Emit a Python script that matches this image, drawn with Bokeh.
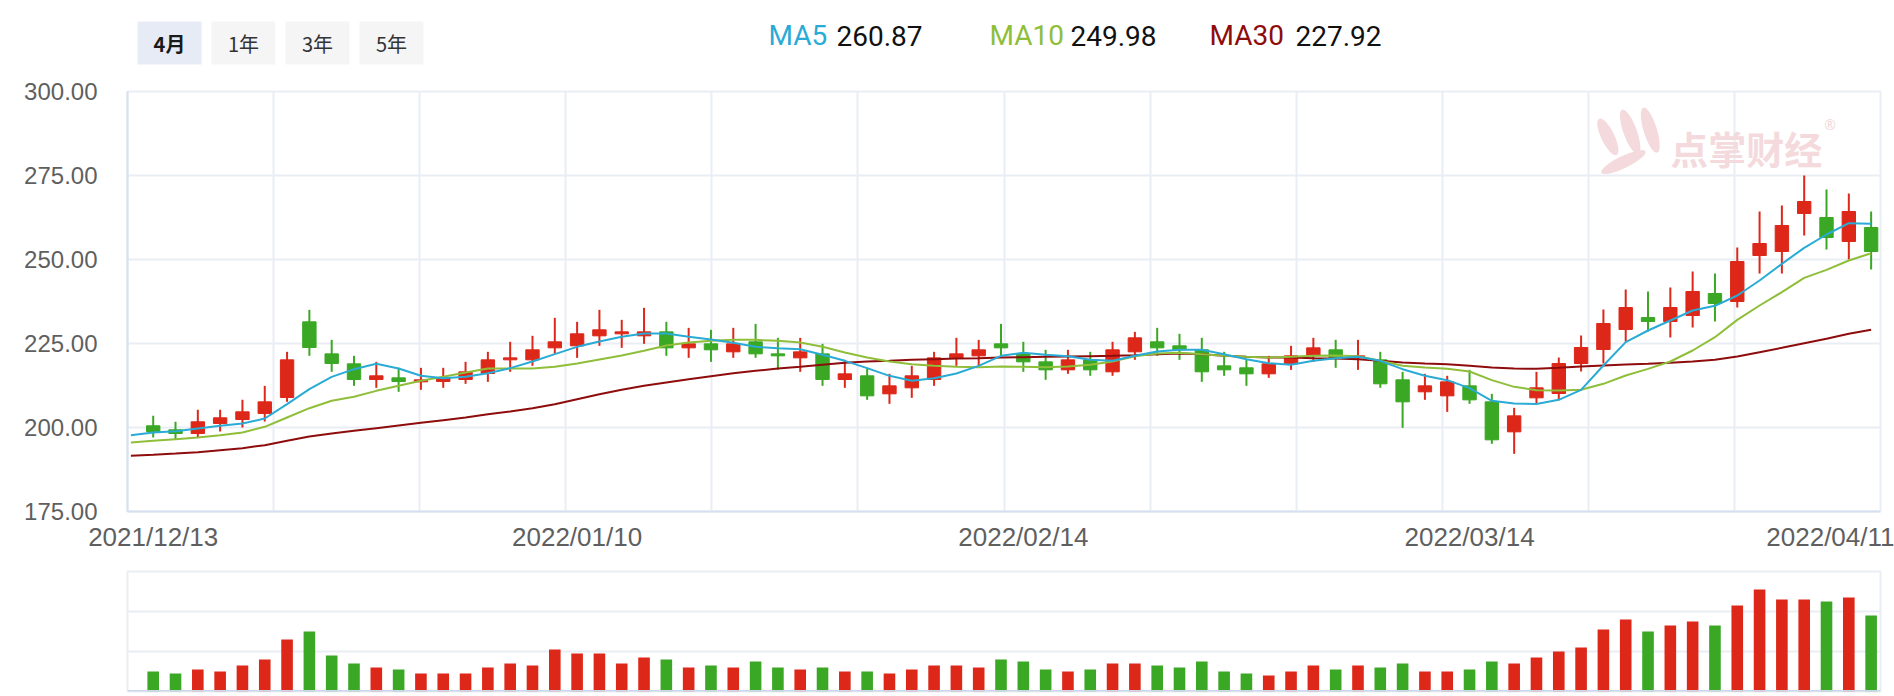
import numpy as np
from bokeh.plotting import figure
from bokeh.layouts import column
from bokeh.models import Range1d, FixedTicker, NumeralTickFormatter, ColumnDataSource, Span
from bokeh.core.properties import value
from bokeh.embed import file_html
from bokeh.resources import INLINE

# ---------------- data ----------------
opens = [200.50, 199.31, 198.21, 201.19, 202.38, 204.17, 208.93, 231.45, 221.92, 218.95,
         214.29, 214.78, 213.59, 213.69, 214.29, 216.07, 220.14, 220.14, 223.71, 224.31,
         227.28, 227.88, 227.28, 228.47, 223.71, 224.90, 222.52, 225.50, 221.92, 220.73,
         221.92, 214.29, 215.38, 210.02, 211.81, 214.29, 220.73, 221.33, 224.90, 221.92,
         219.54, 217.16, 220.14, 216.57, 222.52, 225.50, 224.31, 223.12, 218.35, 217.76,
         215.97, 218.95, 221.33, 223.12, 220.73, 220.14, 214.19, 210.62, 209.42, 212.40,
         207.64, 198.71, 208.83, 210.12, 219.05, 223.21, 229.17, 232.74, 231.55, 233.33,
         239.88, 237.50, 251.19, 252.38, 263.69, 262.50, 255.36, 259.52]
closes = [198.81, 198.21, 201.69, 202.88, 204.66, 207.64, 220.14, 223.81, 219.05, 214.29,
          215.38, 213.69, 214.19, 214.78, 216.57, 220.14, 220.73, 223.12, 225.50, 227.88,
          229.07, 228.47, 228.47, 223.71, 224.90, 223.12, 224.90, 221.92, 221.33, 222.52,
          214.29, 215.97, 209.42, 212.40, 215.38, 220.73, 221.92, 223.12, 223.71, 219.54,
          217.16, 220.14, 217.16, 223.12, 226.69, 223.71, 223.12, 216.57, 217.16, 215.97,
          218.95, 221.33, 223.71, 220.73, 221.33, 213.00, 207.64, 212.40, 213.59, 208.23,
          196.33, 203.47, 211.81, 219.05, 223.81, 230.95, 235.71, 231.55, 235.71, 240.48,
          236.90, 249.40, 254.76, 260.12, 267.26, 256.55, 264.29, 252.38]
highs = [203.47, 201.69, 205.26, 205.26, 208.23, 212.40, 222.52, 235.02, 226.09, 221.33,
         219.54, 217.76, 217.76, 217.76, 219.54, 222.52, 225.50, 227.28, 232.64, 231.45,
         235.02, 232.04, 235.61, 231.45, 229.66, 229.07, 229.66, 230.85, 226.69, 226.69,
         224.90, 220.14, 217.76, 215.97, 218.35, 222.52, 226.69, 226.09, 230.85, 225.50,
         223.12, 223.12, 222.52, 225.50, 228.47, 229.66, 227.88, 226.69, 222.52, 220.14,
         221.33, 224.31, 226.69, 226.09, 226.09, 222.52, 216.57, 215.97, 215.38, 217.16,
         210.02, 205.85, 216.57, 220.83, 227.38, 235.12, 241.07, 240.48, 241.67, 246.43,
         245.83, 253.57, 264.29, 266.07, 275.00, 270.83, 269.64, 264.29]
lows = [197.02, 196.43, 197.02, 198.81, 200.00, 201.79, 207.64, 221.33, 216.57, 212.40,
        211.81, 210.62, 211.21, 211.81, 213.00, 213.59, 216.57, 218.35, 221.92, 220.73,
        224.31, 223.71, 224.90, 221.33, 220.73, 219.54, 220.73, 220.73, 217.16, 216.57,
        212.40, 211.81, 208.23, 207.04, 208.83, 212.40, 218.35, 218.35, 221.33, 216.57,
        214.19, 215.97, 215.38, 215.38, 220.14, 221.33, 220.14, 213.59, 215.38, 212.40,
        214.78, 217.16, 219.54, 217.76, 217.16, 211.81, 199.90, 208.23, 204.66, 207.04,
        195.14, 192.16, 207.04, 208.13, 216.67, 219.05, 225.60, 228.57, 226.79, 229.76,
        231.55, 235.71, 245.83, 245.83, 257.14, 252.98, 250.00, 247.02]
volumes = [20, 18, 22, 20, 26, 32, 52, 60, 36, 28,
           24, 22, 18, 18, 18, 24, 28, 26, 42, 38,
           38, 28, 34, 32, 24, 26, 24, 30, 24, 22,
           24, 20, 20, 18, 22, 26, 26, 24, 32, 30,
           22, 20, 22, 28, 28, 26, 24, 30, 20, 18,
           16, 20, 26, 22, 26, 24, 28, 20, 20, 22,
           30, 28, 34, 40, 44, 62, 72, 60, 66, 70,
           66, 86, 102, 92, 92, 90, 94, 76]

# moving averages, first value belongs to the day before the window
ma5 = [197.72, 198.51, 198.91, 199.70, 200.50, 201.19, 202.68, 206.94, 211.41, 215.08, 217.36,
       218.95, 217.56, 215.38, 214.68, 215.08, 216.17, 217.66, 219.64, 221.83, 224.01,
       225.60, 226.98, 227.98, 227.98, 226.98, 226.19, 225.20, 224.01, 223.61, 223.31,
       221.63, 219.84, 217.66, 215.38, 213.89, 214.68, 216.07, 218.35, 221.33, 222.22,
       221.63, 221.23, 220.14, 219.84, 221.33, 222.62, 223.12, 223.12, 221.83, 220.34,
       219.15, 218.65, 219.84, 220.63, 221.03, 219.84, 217.36, 215.38, 214.09, 211.71,
       207.94, 207.14, 207.00, 208.23, 211.21, 218.45, 225.40, 228.87, 231.85, 234.82,
       236.21, 239.29, 243.75, 248.71, 253.47, 257.44, 260.81, 260.62]
ma10 = [195.54, 196.03, 196.53, 197.02, 197.72, 198.51, 200.20, 202.98, 205.75, 207.94, 209.13,
        210.91, 212.40, 213.89, 215.08, 216.37, 217.56, 217.56, 217.56, 218.06, 219.05,
        220.24, 221.43, 222.82, 224.40, 225.30, 225.79, 226.09, 226.09, 225.79, 225.30,
        224.01, 222.32, 220.83, 219.64, 218.85, 218.35, 218.06, 217.96, 218.15, 218.06,
        217.96, 218.15, 218.65, 219.64, 221.23, 222.02, 222.22, 221.83, 221.33, 221.03,
        220.83, 221.03, 221.33, 221.43, 221.23, 219.84, 218.35, 217.86, 217.46, 216.67,
        214.09, 212.10, 211.11, 211.01, 211.21, 213.00, 215.48, 217.46, 219.64, 222.92,
        226.88, 232.04, 236.31, 240.28, 244.54, 246.92, 249.70, 251.88]
ma30 = [191.57, 191.87, 192.26, 192.66, 193.25, 193.85, 194.74, 196.03, 197.32, 198.21, 199.01,
        199.80, 200.60, 201.39, 202.18, 202.98, 203.97, 204.76, 205.75, 206.94, 208.43,
        209.92, 211.21, 212.40, 213.39, 214.38, 215.28, 216.17, 216.87, 217.56, 218.06,
        218.65, 219.25, 219.64, 219.84, 220.14, 220.34, 220.54, 220.63, 220.83, 220.93,
        221.03, 221.13, 221.23, 221.33, 221.53, 221.83, 222.02, 221.83, 221.33, 221.03,
        220.83, 220.83, 220.63, 220.54, 220.34, 219.84, 219.35, 219.05, 218.85, 218.35,
        217.86, 217.56, 217.46, 217.76, 218.15, 218.45, 218.75, 218.95, 219.25, 219.64,
        220.14, 221.13, 222.42, 223.71, 225.10, 226.39, 227.88, 229.07]

tick_idx = [0, 19, 39, 59, 77]
tick_dates = ["2021/12/13", "2022/01/10", "2022/02/14", "2022/03/14", "2022/04/11"]
y_ticks = [175, 200, 225, 250, 275, 300]
ma_names = ["MA5", "MA10", "MA30"]
ma_last = ["260.87", "249.98", "227.92"]
periods = ["4月", "1年", "3年", "5年"]

# ---------------- styles ----------------
RED = "#dd2719"
GREEN = "#3aa824"
MA_COLORS = ["#2aabd5", "#8fbe3a", "#8e0c0c"]
GRID = "#e9eef5"
LABEL = "#5f5f5f"
WM = "#f4dadc"
W = 1894
LEFT, RIGHT = 127, 14

n = len(closes)
idx = np.arange(n)
o = np.array(opens); c = np.array(closes)
colors = [RED if cc >= oo else GREEN for oo, cc in zip(opens, closes)]
src = ColumnDataSource(dict(x=idx, high=highs, low=lows,
                            top=np.maximum(o, c), bottom=np.minimum(o, c),
                            color=colors, vol=volumes))

xr = Range1d(-1.152, 77.42)

# ---------------- header (data units = page pixels) ----------------
ph = figure(width=W, height=75, x_range=Range1d(LEFT, W - RIGHT), y_range=Range1d(75, 0),
            output_backend="svg", toolbar_location=None,
            x_axis_location=None, y_axis_location=None,
            min_border_left=LEFT, min_border_right=RIGHT, min_border_top=0, min_border_bottom=0)
ph.outline_line_color = None
ph.grid.visible = False
bx0 = [137 + k * 74 for k in range(len(periods))]
ph.quad(left=bx0, right=[b + 64 for b in bx0], top=[21] * 4, bottom=[64] * 4,
        fill_color=["#e7ebf6", "#f5f5f6", "#f5f5f6", "#f5f5f6"], line_color=None)
ph.text(x=[bx0[0] + 32], y=[43], text=[periods[0]], text_align="center", text_baseline="middle",
        text_font=value("Noto Sans CJK SC"), text_font_size="20px", text_font_style="bold",
        text_color="#1a1a1a")
ph.text(x=[b + 32 for b in bx0[1:]], y=[43] * 3, text=periods[1:], text_align="center",
        text_baseline="middle", text_font=value("Noto Sans CJK SC"), text_font_size="20px",
        text_color="#333333")
name_x = [768, 989, 1209]
val_x = [836, 1070, 1295]
ph.text(x=name_x, y=[35] * 3, text=ma_names, text_color=MA_COLORS, text_baseline="middle",
        text_font=value("Roboto"), text_font_size="28px")
ph.text(x=val_x, y=[35] * 3, text=ma_last, text_color="#111111", text_baseline="middle",
        text_font=value("Roboto"), text_font_size="28px")

# ---------------- main candle chart ----------------
p = figure(width=W, height=480, x_range=xr, y_range=Range1d(175, 300),
           output_backend="svg", toolbar_location=None,
           min_border_left=LEFT, min_border_right=RIGHT, min_border_top=16, min_border_bottom=44)
p.outline_line_color = GRID
p.outline_line_width = 2
p.ygrid.ticker = FixedTicker(ticks=y_ticks)
p.xgrid.ticker = FixedTicker(ticks=list(np.linspace(xr.start, xr.end, 13)[1:-1]))
p.grid.grid_line_color = GRID
p.grid.grid_line_width = 2

p.yaxis.ticker = FixedTicker(ticks=y_ticks)
p.yaxis.formatter = NumeralTickFormatter(format="0.00")
p.xaxis.ticker = FixedTicker(ticks=tick_idx)
p.xaxis.major_label_overrides = {i: d for i, d in zip(tick_idx, tick_dates)}
for ax in (p.xaxis, p.yaxis):
    ax.major_tick_line_color = None
    ax.minor_tick_line_color = None
    ax.major_tick_out = 0
    ax.major_tick_in = 0
    ax.axis_line_color = "#d6e0ee"
    ax.axis_line_width = 2
    ax.major_label_text_font = "Liberation Sans"
    ax.major_label_text_color = LABEL
p.yaxis.major_label_text_font_size = "24px"
p.yaxis.major_label_standoff = 30
p.xaxis.major_label_text_font_size = "26px"
p.xaxis.major_label_standoff = 10

# watermark
p.ellipse(x=[65.2, 66.2, 67.1], y=[286.5, 288.0, 288.5],
          width=[0.6, 0.6, 0.6], height=[12, 14, 14],
          angle=[0.45, 0.35, 0.3], fill_color=WM, line_color=None)
p.ellipse(x=[65.9], y=[279.0], width=[2.2], height=[3.6], angle=[0.45],
          fill_color=WM, line_color=None)
p.text(x=[68.0], y=[283.2], text=["点掌财经"], text_font=value("Noto Sans CJK SC"),
       text_font_style="bold", text_font_size="38px", text_color=WM,
       text_baseline="middle")
p.text(x=[74.9], y=[290.3], text=["®"], text_font=value("Noto Sans"),
       text_font_size="14px", text_color=WM, text_baseline="middle")

p.segment(x0="x", y0="high", x1="x", y1="low", line_color="color", line_width=2, source=src)
p.vbar(x="x", width=0.6, top="top", bottom="bottom", fill_color="color",
       line_color="color", line_width=1, source=src)

ma_x = np.arange(-1, n)
for ma, col in zip([ma30, ma10, ma5], [MA_COLORS[2], MA_COLORS[1], MA_COLORS[0]]):
    p.line(ma_x, ma, line_color=col, line_width=2)

# ---------------- volume ----------------
pv = figure(width=W, height=141, x_range=xr, y_range=Range1d(0, 120),
            output_backend="svg", toolbar_location=None,
            min_border_left=LEFT, min_border_right=RIGHT, min_border_top=16, min_border_bottom=5)
pv.xaxis.visible = False
pv.yaxis.visible = False
pv.outline_line_color = GRID
pv.outline_line_width = 2
pv.xgrid.visible = False
pv.ygrid.ticker = FixedTicker(ticks=[40, 80])
pv.ygrid.grid_line_color = GRID
pv.ygrid.grid_line_width = 2
pv.vbar(x="x", width=0.52, top="vol", bottom=0, fill_color="color", line_color=None, source=src)
pv.add_layout(Span(location=0, dimension="width", line_color="#cbd7e9", line_width=3))

layout = column(ph, p, pv, spacing=0)
open("out.html", "w").write(file_html(layout, INLINE))
